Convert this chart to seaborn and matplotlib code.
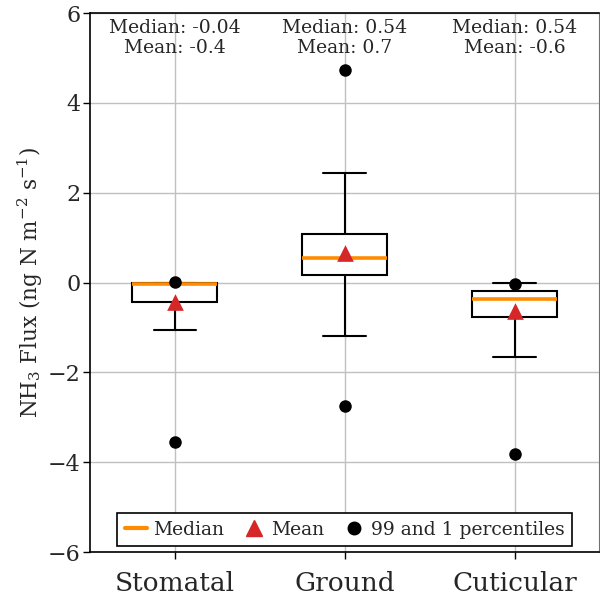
import numpy as np
import pandas as pd
import matplotlib
matplotlib.use("Agg")
import matplotlib.pyplot as plt
from matplotlib.lines import Line2D
import seaborn as sns

# Flux partition summary statistics (ng N m-2 s-1)
categories = ["Stomatal", "Ground", "Cuticular"]
whisker_low = [-1.05, -1.18, -1.65]
q1 = [-0.44, 0.18, -0.77]
medians = [-0.04, 0.54, -0.36]
q3 = [-0.02, 1.09, -0.19]
whisker_high = [0.00, 2.45, -0.01]
means = [-0.44, 0.67, -0.64]
pct1 = [-3.55, -2.75, -3.82]
pct99 = [0.01, 4.74, -0.03]
median_text = ["-0.04", "0.54", "0.54"]
mean_text = ["-0.4", "0.7", "-0.6"]

# five-number summaries as long-form table, so the box draws exactly these values
rows = []
for c, a, b, m, d, e in zip(categories, whisker_low, q1, medians, q3, whisker_high):
    for v in (a, b, m, d, e):
        rows.append({"source": c, "flux": v})
box_df = pd.DataFrame(rows)
mean_df = pd.DataFrame({"source": categories, "flux": means})
pct_df = pd.DataFrame({"source": categories * 2, "flux": pct1 + pct99})

sns.set_style("whitegrid")
plt.rcParams["font.family"] = ["DejaVu Serif"]
plt.rcParams["mathtext.fontset"] = "dejavuserif"

fig = plt.figure(figsize=(6.0, 6.13), dpi=100)
ax = fig.add_axes([0.15, 0.0995, 0.849, 0.879])

sns.boxplot(data=box_df, x="source", y="flux", order=categories, whis=(0, 100),
            width=0.5, showfliers=False, ax=ax,
            boxprops=dict(facecolor="white", edgecolor="black", linewidth=1.5),
            whiskerprops=dict(color="black", linewidth=1.5),
            capprops=dict(color="black", linewidth=1.5),
            medianprops=dict(color="#ff8c00", linewidth=2.6))

sns.stripplot(data=pct_df, x="source", y="flux", order=categories, jitter=False,
              color="black", size=9, ax=ax, zorder=4)
sns.stripplot(data=mean_df, x="source", y="flux", order=categories, jitter=False,
              color="#d62728", marker="^", size=12, linewidth=0, ax=ax, zorder=5)

for i, (mt, nt) in enumerate(zip(median_text, mean_text)):
    ax.text(i, 5.88, f"Median: {mt}\nMean: {nt}", ha="center", va="top",
            fontsize=13.5, linespacing=1.15, zorder=6)

ax.set_ylim(-6, 6)
ax.set_xlim(-0.5, 2.5)
ax.set_yticks(np.arange(-6, 7, 2))
ax.set_xlabel("")
ax.set_ylabel(r"NH$_3$ Flux (ng N m$^{-2}$ s$^{-1}$)", fontsize=15.5, labelpad=2)
ax.tick_params(axis="y", labelsize=16, length=5, width=1, color="black", pad=2, left=True)
ax.tick_params(axis="x", labelsize=19, length=5, width=1, color="black", pad=9, bottom=True)
ax.grid(True, color="#c0c0c0", linewidth=1)
for s in ax.spines.values():
    s.set_color("black")
    s.set_linewidth(1.2)
ax.spines["right"].set_color("#707070")
ax.spines["right"].set_linewidth(0.8)

handles = [
    Line2D([], [], color="#ff8c00", linewidth=3),
    Line2D([], [], color="#d62728", marker="^", linestyle="none", markersize=11),
    Line2D([], [], color="black", marker="o", linestyle="none", markersize=9),
]
leg = ax.legend(handles, ["Median", "Mean", "99 and 1 percentiles"], loc="lower center",
                ncol=3, fontsize=13.5, frameon=True, fancybox=False, framealpha=1,
                handlelength=1.2, handletextpad=0.3, columnspacing=1.0,
                borderaxespad=0.3, bbox_to_anchor=(0.5, 0.0))
leg.get_frame().set_edgecolor("black")
leg.get_frame().set_linewidth(1.2)

fig.savefig("out.png", dpi=100)
